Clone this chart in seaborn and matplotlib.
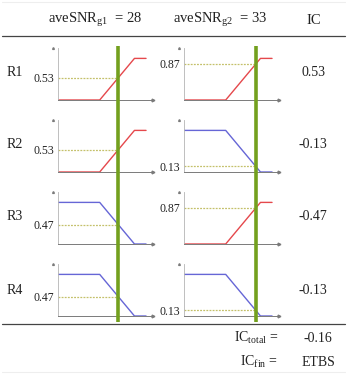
import numpy as np
import matplotlib
matplotlib.use("Agg")
import matplotlib.pyplot as plt
import matplotlib.transforms as mtransforms
import seaborn as sns

# ---------------- data ----------------
snr_values = [28, 33]                       # aveSNR_g1, aveSNR_g2
col_subs = ["g1", "g2"]
curve_x = [2, 20, 35, 40]                   # membership breakpoints (SNR)
rise_y = [0, 0, 1, 1]
fall_y = [1, 1, 0, 0]
row_labels = ["R1", "R2", "R3", "R4"]
col1_shapes = ["rise", "rise", "fall", "fall"]
col2_shapes = ["rise", "fall", "rise", "fall"]
ic_values = ["0.53", "-0.13", "-0.47", "-0.13"]
ic_total = "-0.16"
ic_fin = "ETBS"

# ---------------- style ----------------
sns.set_theme(style="white")
plt.rcParams["font.family"] = ["Liberation Serif", "DejaVu Serif"]
plt.rcParams["mathtext.fontset"] = "custom"
plt.rcParams["mathtext.rm"] = "Liberation Serif"
plt.rcParams["mathtext.it"] = "Liberation Serif:italic"

RED = "#e5484c"
BLUE = "#6666d6"
GREEN = "#73a01e"
DOT = "#c4c06a"
AXX = "#7a7a7a"
AXY = "#b4b4b4"

W, H = 349, 385
fig = plt.figure(figsize=(W / 100, H / 100), dpi=100)
fig.patch.set_facecolor("white")

ax0 = fig.add_axes([0, 0, 1, 1])
ax0.set_xlim(0, W)
ax0.set_ylim(H, 0)
ax0.axis("off")
ax0.patch.set_visible(False)
ax0.set_zorder(10)

col_left = [58, 184]
ax_w, ax_h = 95, 52
row_base = [100, 172, 244, 316]
shapes = [col1_shapes, col2_shapes]

col_axes = []
for c in range(2):
    for r in range(4):
        x0 = col_left[c]
        yb = row_base[r]
        ax = fig.add_axes([x0 / W, (H - yb) / H, ax_w / W, ax_h / H])
        ax.patch.set_visible(False)
        shape = shapes[c][r]
        ys = rise_y if shape == "rise" else fall_y
        color = RED if shape == "rise" else BLUE
        sns.lineplot(x=curve_x, y=ys, ax=ax, color=color, lw=1.0)
        ax.set_xlim(2, 43)
        ax.set_ylim(0, 1.25)
        snr = snr_values[c]
        level = float(np.interp(snr, curve_x, ys))
        ax.plot([2, snr], [level, level], color=DOT, lw=0.9, ls=(0, (1.5, 1.0)))
        ax.set_xticks([])
        ax.set_yticks([level])
        ax.set_yticklabels([f"{level:.2f}"], fontsize=8.5, color="#222222")
        ax.tick_params(axis="y", length=0, pad=3)
        for s in ["top", "right"]:
            ax.spines[s].set_visible(False)
        ax.spines["left"].set_color(AXY)
        ax.spines["left"].set_linewidth(0.6)
        ax.spines["bottom"].set_color(AXX)
        ax.spines["bottom"].set_linewidth(0.7)
        ax.plot(1, 0, ">", color=AXX, ms=2.0, transform=ax.get_yaxis_transform(), clip_on=False)
        ax.plot(0, 1, "^", color=AXX, ms=1.3, transform=ax.get_xaxis_transform(), clip_on=False)
        if r == 0:
            col_axes.append(ax)

# green SNR lines spanning all rows
for c in range(2):
    tr = mtransforms.blended_transform_factory(col_axes[c].transData, ax0.transData)
    ax0.plot([snr_values[c], snr_values[c]], [46, 322], color=GREEN, lw=2.6,
             transform=tr, solid_capstyle="butt")

# table lines
ax0.plot([2, 345], [36, 36], color="#444444", lw=0.9)
ax0.plot([2, 345], [324, 324], color="#444444", lw=0.9)
ax0.plot([2, 345], [2, 2], color="#eeeeee", lw=0.8)
ax0.plot([2, 345], [372, 372], color="#eeeeee", lw=0.8)

# header
ax0.text(95, 20, r"aveSNR$_{\mathrm{%s}}$  = %d" % (col_subs[0], snr_values[0]),
         ha="center", va="center", fontsize=10.5, color="#222222")
ax0.text(220, 20, r"aveSNR$_{\mathrm{%s}}$  = %d" % (col_subs[1], snr_values[1]),
         ha="center", va="center", fontsize=10.5, color="#222222")
ax0.text(314, 20, "IC", ha="center", va="center", fontsize=10.5, color="#222222")

row_y = [73, 145, 217, 290]
for r in range(4):
    ax0.text(15, row_y[r], row_labels[r], ha="center", va="center", fontsize=10, color="#222222")
    ax0.text(313, row_y[r], ic_values[r], ha="center", va="center", fontsize=10, color="#222222")

ax0.text(278, 338, r"IC$_{\mathrm{total}}$ =", ha="right", va="center", fontsize=10, color="#222222")
ax0.text(318, 338, ic_total, ha="center", va="center", fontsize=10, color="#222222")
ax0.text(278, 362, r"IC$_{\mathrm{fin}}$ =", ha="right", va="center", fontsize=10, color="#222222")
ax0.text(318, 362, ic_fin, ha="center", va="center", fontsize=10, color="#222222")

fig.savefig("out.png", dpi=100)
